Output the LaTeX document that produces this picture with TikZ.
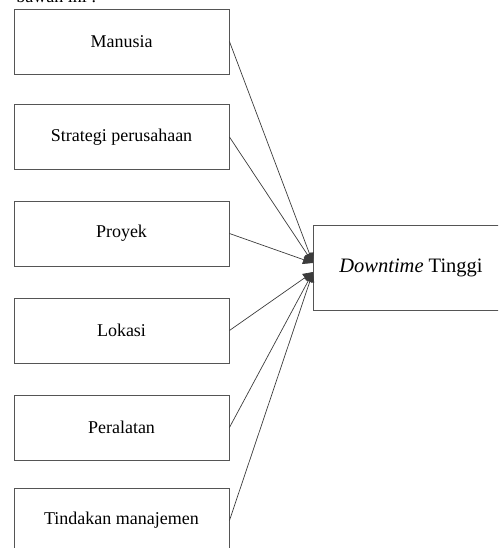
\documentclass[tikz,border=0pt]{standalone}
\usepackage{fontspec}
\setmainfont{Liberation Serif}
\usetikzlibrary{arrows.meta}
\definecolor{boxline}{HTML}{555555}
\definecolor{conn}{HTML}{3C3C3C}
\tikzset{
  leftbox/.style={draw=boxline, line width=0.9pt, minimum width=215pt, minimum height=65pt,
    inner sep=0pt, font=\fontsize{18}{21}\selectfont},
  rightbox/.style={draw=boxline, line width=0.9pt, minimum width=196pt, minimum height=85pt,
    inner sep=0pt, font=\fontsize{20.5}{24}\selectfont},
  conn/.style={draw=conn, line width=0.7pt, -{Triangle[length=10pt,width=9pt]}},
}
\begin{document}
\begin{tikzpicture}[x=1pt,y=-1pt]
\useasboundingbox (0,0) rectangle (498,548);
\clip (0,0) rectangle (498,548);
\node[anchor=base east, font=\fontsize{18}{21}\selectfont, text=black] (cap) at (100,2.5) {bawah ini :};
\node[leftbox] (b1) at (121.5,41.5) {Manusia};
\node[leftbox] (b2) at (121.5,137) {Strategi perusahaan};
\node[leftbox] (b3) at (121.5,233.5) {Proyek};
\node[leftbox] (b4) at (121.5,330.5) {Lokasi};
\node[leftbox] (b5) at (121.5,427.5) {Peralatan};
\node[leftbox] (b6) at (121.5,520.5) {Tindakan manajemen};
\node[rightbox] (r) at (411,267.5) {\textit{Downtime} Tinggi};
\coordinate (t1) at (313,263);
\coordinate (t2) at (313,272);
\draw[conn] (b1.east) -- (t1);
\draw[conn] (b2.east) -- (t1);
\draw[conn] (b3.east) -- (t1);
\draw[conn] (b4.east) -- (t2);
\draw[conn] (b5.east) -- (t2);
\draw[conn] (b6.east) -- (t2);
\end{tikzpicture}
\end{document}
